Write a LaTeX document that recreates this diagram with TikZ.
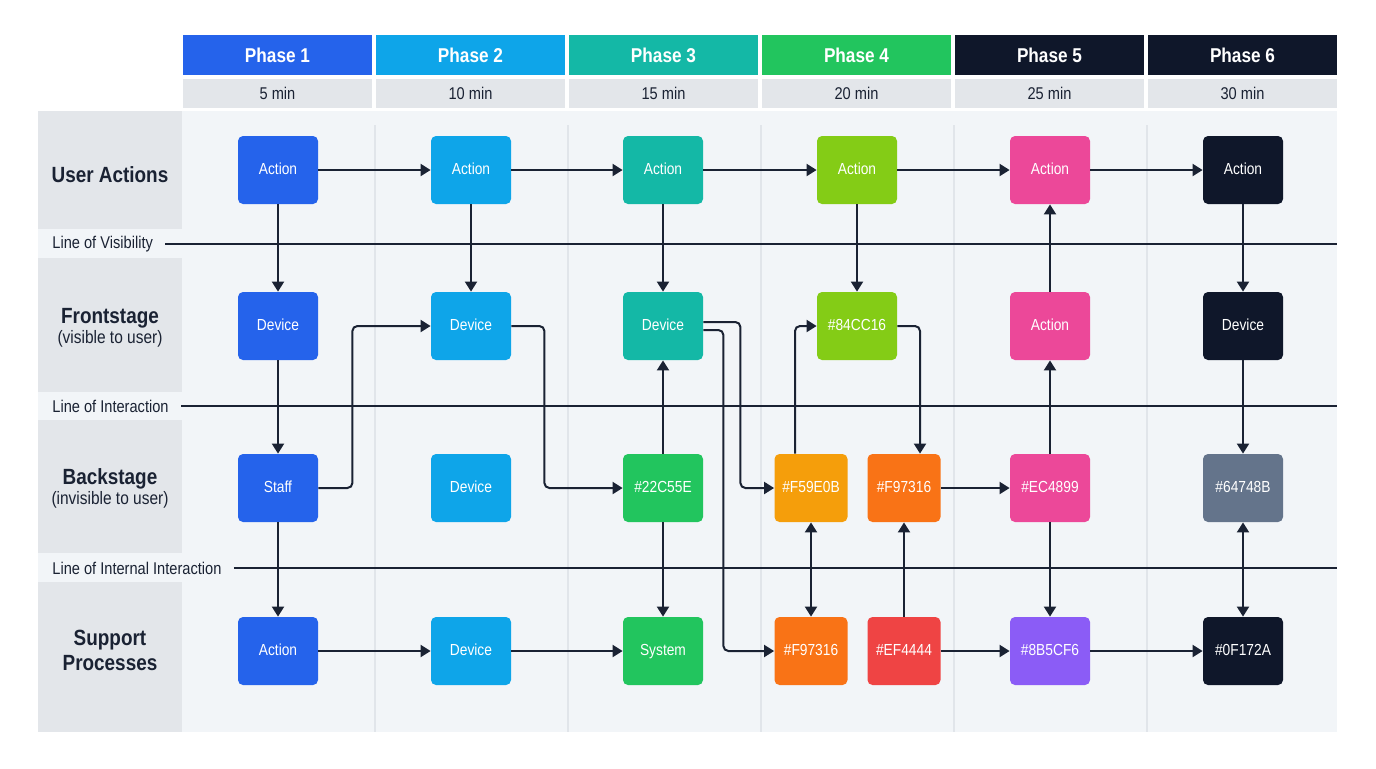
\documentclass[tikz,border=0pt]{standalone}
\usepackage{fontspec}
\setmainfont[FakeStretch=0.86]{Liberation Sans}
\usetikzlibrary{arrows.meta}
\definecolor{ink}{HTML}{1A2233}
\definecolor{lanefill}{HTML}{E3E6EA}
\definecolor{bodyfill}{HTML}{F2F5F8}
\definecolor{divider}{HTML}{E1E5EA}
\definecolor{cblue}{HTML}{2563EB}
\definecolor{csky}{HTML}{0EA5E9}
\definecolor{cteal}{HTML}{14B8A6}
\definecolor{cgreen}{HTML}{22C55E}
\definecolor{clime}{HTML}{84CC16}
\definecolor{camber}{HTML}{F59E0B}
\definecolor{corange}{HTML}{F97316}
\definecolor{cred}{HTML}{EF4444}
\definecolor{cpink}{HTML}{EC4899}
\definecolor{cviolet}{HTML}{8B5CF6}
\definecolor{cslate}{HTML}{64748B}
\definecolor{cnavy}{HTML}{0F172A}
\begin{document}
\begin{tikzpicture}[x=0.5pt,y=-0.5pt,
  box/.style={rounded corners=2.5pt, minimum width=40pt, minimum height=34pt, inner sep=0pt, text=white, text height=6pt, text depth=1.6pt, font=\fontsize{8}{9}\selectfont},
  narrow/.style={box, minimum width=36.5pt},
  phasebox/.style={minimum width=94.5pt, minimum height=20pt, inner sep=0pt, text=white, font=\bfseries\fontsize{10}{12}\selectfont},
  timebox/.style={fill=lanefill, minimum width=94.5pt, minimum height=14.5pt, inner sep=0pt, text=ink, font=\fontsize{8.5}{10}\selectfont},
  lanetitle/.style={text=ink, font=\bfseries\fontsize{11}{13}\selectfont, inner sep=0pt},
  lanesub/.style={text=ink, font=\fontsize{9}{11}\selectfont, inner sep=0pt},
  linelbl/.style={anchor=west, text=ink, font=\fontsize{8.5}{10}\selectfont, inner sep=0pt},
  sepline/.style={draw=ink, line width=1pt},
  tip/.tip={Triangle[length=5pt,width=6pt]},
  conn/.style={draw=ink, line width=1pt, -tip, rounded corners=2.5pt},
  both/.style={draw=ink, line width=1pt, tip-tip},
]
\useasboundingbox (0,0) rectangle (1376,768);
\fill[white] (0,0) rectangle (1376,768);
% body
\fill[bodyfill] (38,111) rectangle (1337,732);
\fill[lanefill] (38,111) rectangle (182,229);
\fill[lanefill] (38,258) rectangle (182,392);
\fill[lanefill] (38,420) rectangle (182,553);
\fill[lanefill] (38,582) rectangle (182,732);
\foreach \x in {374.5,567.5,760.5,953.5,1146.5}{
  \draw[divider, line width=1pt] (\x,125) -- (\x,732);
}
% headers
\node[phasebox, fill=cblue]  (p1) at (277.5,55) {Phase 1};
\node[phasebox, fill=csky]   (p2) at (470.5,55) {Phase 2};
\node[phasebox, fill=cteal]  (p3) at (663.5,55) {Phase 3};
\node[phasebox, fill=cgreen] (p4) at (856.5,55) {Phase 4};
\node[phasebox, fill=cnavy]  (p5) at (1049.5,55) {Phase 5};
\node[phasebox, fill=cnavy]  (p6) at (1242.5,55) {Phase 6};
\node[timebox] (t1) at (277.5,93.5) {5 min};
\node[timebox] (t2) at (470.5,93.5) {10 min};
\node[timebox] (t3) at (663.5,93.5) {15 min};
\node[timebox] (t4) at (856.5,93.5) {20 min};
\node[timebox] (t5) at (1049.5,93.5) {25 min};
\node[timebox] (t6) at (1242.5,93.5) {30 min};
% lane labels
\node[lanetitle] (l1) at (110,175) {User Actions};
\node[lanetitle] (l2) at (110,318) {Frontstage};
\node[lanesub]   (l2s) at (110,339) {(visible to user)};
\node[lanetitle] (l3) at (110,479) {Backstage};
\node[lanesub]   (l3s) at (110,500) {(invisible to user)};
\node[lanetitle] (l4a) at (110,640) {Support};
\node[lanetitle] (l4b) at (110,663) {Processes};
% lines
\coordinate (rend) at (1337,0);
\node[linelbl] (lv) at (52,244) {Line of Visibility};
\draw[sepline] ([xshift=6pt]lv.east) -- (lv.east -| rend);
\node[linelbl] (li) at (52,406) {Line of Interaction};
\draw[sepline] ([xshift=6pt]li.east) -- (li.east -| rend);
\node[linelbl] (lii) at (52,568) {Line of Internal Interaction};
\draw[sepline] ([xshift=6pt]lii.east) -- (lii.east -| rend);
% nodes row 1
\node[box, fill=cblue]  (u1) at (278,170) {Action};
\node[box, fill=csky]   (u2) at (471,170) {Action};
\node[box, fill=cteal]  (u3) at (663,170) {Action};
\node[box, fill=clime]  (u4) at (857,170) {Action};
\node[box, fill=cpink]  (u5) at (1050,170) {Action};
\node[box, fill=cnavy]  (u6) at (1243,170) {Action};
% row 2
\node[box, fill=cblue]  (f1) at (278,326) {Device};
\node[box, fill=csky]   (f2) at (471,326) {Device};
\node[box, fill=cteal]  (f3) at (663,326) {Device};
\node[box, fill=clime]  (f4) at (857,326) {\#84CC16};
\node[box, fill=cpink]  (f5) at (1050,326) {Action};
\node[box, fill=cnavy]  (f6) at (1243,326) {Device};
% row 3
\node[box, fill=cblue]  (b1) at (278,488) {Staff};
\node[box, fill=csky]   (b2) at (471,488) {Device};
\node[box, fill=cgreen] (b3) at (663,488) {\#22C55E};
\node[narrow, fill=camber]  (b4a) at (811,488) {\#F59E0B};
\node[narrow, fill=corange] (b4b) at (904,488) {\#F97316};
\node[box, fill=cpink]  (b5) at (1050,488) {\#EC4899};
\node[box, fill=cslate] (b6) at (1243,488) {\#64748B};
% row 4
\node[box, fill=cblue]  (s1) at (278,651) {Action};
\node[box, fill=csky]   (s2) at (471,651) {Device};
\node[box, fill=cgreen] (s3) at (663,651) {System};
\node[narrow, fill=corange] (s4a) at (811,651) {\#F97316};
\node[narrow, fill=cred]    (s4b) at (904,651) {\#EF4444};
\node[box, fill=cviolet] (s5) at (1050,651) {\#8B5CF6};
\node[box, fill=cnavy]  (s6) at (1243,651) {\#0F172A};
% connectors
\draw[conn] (u1) -- (u2);
\draw[conn] (u2) -- (u3);
\draw[conn] (u3) -- (u4);
\draw[conn] (u4) -- (u5);
\draw[conn] (u5) -- (u6);
\draw[conn] (u1) -- (f1);
\draw[conn] (f1) -- (b1);
\draw[conn] (b1) -- (s1);
\draw[conn] (b1.east) -- ++(34,0) |- (f2.west);
\draw[conn] (u2) -- (f2);
\draw[conn] (f2.east) -- ++(33,0) |- (b3.west);
\draw[conn] (u3) -- (f3);
\draw[conn] (b3) -- (f3);
\draw[conn] (b3) -- (s3);
\draw[conn] (s1) -- (s2);
\draw[conn] (s2) -- (s3);
\draw[conn] ([yshift=2pt]f3.east) -- ++(37,0) |- (b4a.west);
\draw[conn] ([yshift=-2pt]f3.east) -- ++(20,0) |- (s4a.west);
\draw[conn] (u4) -- (f4);
\draw[conn] ([xshift=-8pt]b4a.north) |- (f4.west);
\draw[conn] (f4.east) -| ([xshift=8pt]b4b.north);
\draw[both] (b4a) -- (s4a);
\draw[conn] (s4b) -- (b4b);
\draw[conn] (b4b) -- (b5);
\draw[conn] (s4b) -- (s5);
\draw[conn] (f5) -- (u5);
\draw[conn] (b5) -- (f5);
\draw[conn] (b5) -- (s5);
\draw[conn] (s5) -- (s6);
\draw[conn] (u6) -- (f6);
\draw[conn] (f6) -- (b6);
\draw[both] (b6) -- (s6);
\end{tikzpicture}
\end{document}
